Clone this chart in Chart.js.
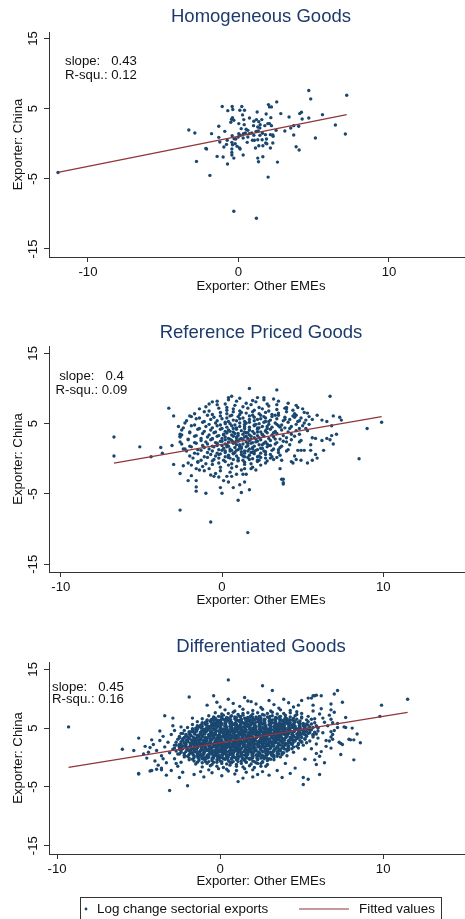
<!DOCTYPE html>
<html>
<head>
<meta charset="utf-8">
<script src="https://cdn.jsdelivr.net/npm/chart.js@4.4.1/dist/chart.umd.min.js"></script>
<style>
  html, body { margin: 0; padding: 0; background: #fff; }
  body { width: 465px; height: 919px; position: relative; overflow: hidden; }
  canvas { position: absolute; left: 0; }
</style>
</head>
<body>
<canvas id="homog" width="465" height="300" style="top:0px"></canvas>
<canvas id="refp" width="465" height="310" style="top:300px"></canvas>
<canvas id="diff" width="465" height="309" style="top:610px"></canvas>
<script>
// panel labels + regression stats
const titles = ['Homogeneous Goods', 'Reference Priced Goods', 'Differentiated Goods'];
const slopes = [0.43, 0.4, 0.45];
const rSquared = [0.12, 0.09, 0.16];
const intercepts = [1.06, 2.05, 2.5];
const xTicks = [-10, 0, 10];
const yTicks = [-15, -5, 5, 15];
const xTitle = 'Exporter: Other EMEs';
const yTitle = 'Exporter: China';
const legendLabels = ['Log change sectorial exports', 'Fitted values'];

// log change of sectoral exports, [other EMEs, China]
const homogPts = [
[4.67,7.57],[7.19,6.90],[4.80,6.38],[-1.08,5.29],[-0.42,5.29],[0.22,5.29],[-0.71,4.71],[-0.38,4.86],[0.09,4.76],[0.40,4.76],
[1.99,5.57],[2.06,5.24],[2.19,5.24],[2.54,5.95],[2.81,4.29],[4.07,4.29],[4.18,4.48],[5.58,4.14],[4.67,3.67],[-0.40,3.71],
[-0.46,3.48],[-0.31,3.33],[-0.51,3.05],[0.27,4.10],[0.35,3.43],[0.73,3.67],[1.24,4.52],[1.02,3.19],[1.19,3.43],[1.35,3.14],
[1.55,3.43],[1.84,4.24],[1.95,2.86],[2.06,2.86],[2.15,3.71],[3.36,3.81],[4.23,3.52],[0.02,2.86],[0.38,2.71],[-1.31,2.48],
[-0.91,1.76],[0.18,2.14],[0.51,2.05],[0.62,1.90],[1.00,2.57],[1.28,2.38],[1.44,2.71],[1.42,2.24],[1.75,2.57],[2.19,2.57],
[2.50,1.90],[3.08,1.81],[3.47,2.24],[3.67,2.57],[4.00,2.48],[6.44,2.67],[7.10,1.38],[-3.30,1.95],[-2.90,1.52],[-1.79,1.43],
[0.02,1.43],[0.13,1.19],[0.33,1.43],[0.46,1.52],[0.71,1.43],[0.88,1.52],[1.02,1.19],[1.17,1.76],[1.31,1.81],[1.42,1.19],
[1.59,1.48],[1.79,1.29],[2.12,1.29],[2.28,1.24],[3.67,1.24],[-1.31,0.90],[-1.24,0.24],[-0.75,0.48],[-0.42,1.14],[-0.29,0.71],
[-0.18,0.67],[-0.02,0.95],[0.31,0.81],[0.62,0.95],[0.93,0.48],[1.06,0.48],[1.28,0.57],[1.57,0.57],[1.86,0.67],[2.30,1.05],
[5.11,0.81],[-2.17,-0.67],[-2.12,-0.76],[-0.97,-0.48],[-0.80,-0.10],[-0.44,0.19],[-0.40,-0.14],[-0.22,0.00],[-0.09,-0.38],[0.07,-0.62],
[0.11,-0.76],[0.58,0.19],[1.13,-0.62],[1.35,-0.29],[1.62,-0.29],[1.81,0.10],[1.88,0.00],[2.28,0.10],[2.12,-0.62],[3.83,-0.43],
[4.03,-0.90],[-1.42,-1.81],[-1.02,-1.90],[-0.44,-0.76],[-0.44,-1.24],[-0.44,-1.62],[-0.31,-2.05],[0.31,-1.62],[1.28,-2.05],[1.33,-2.57],
[1.62,-1.86],[2.59,-2.62],[-2.79,-2.52],[-0.73,-2.90],[-1.90,-4.52],[1.97,-4.76],[-0.31,-9.62],[1.19,-10.62],[-11.99,-4.10]
];

const refPts = [
// outer points
[-6.7,3.1],[-6.7,0.4],[-5.1,1.7],[-4.4,0.3],[-3.8,1.6],[-3.7,0.8],[-3.1,1.9],[-3.3,7.2],[-3.0,6.1],[-2.7,4.6],
[-2.6,3.5],[-2.6,3.2],[-3.0,-0.8],[-2.6,-2.1],[-2.1,-3.1],[-1.9,-2.4],[-1.6,-3.1],[-1.6,-4.0],[-1.6,-4.6],[-2.6,-7.3],
[-1.0,-4.9],[-0.7,-9.0],[1.6,-10.5],[0.0,-4.9],[-0.1,-4.1],[0.7,-4.1],[1.1,-3.7],[1.0,-5.9],[1.2,-4.8],[1.4,-3.3],
[1.7,-4.4],[3.8,-2.9],[3.8,-3.4],[3.4,9.8],[1.7,10.0],[6.7,8.9],[9.0,4.3],[9.9,5.2],[8.5,0.0],
[-2.3,1.4],[-2.4,-1.0],[-2.1,-0.6],[-1.9,-0.9],[-1.6,-1.4],[-1.5,-0.5],[-1.4,-1.6],[-1.1,-1.7],[-0.7,-2.3],[-0.5,-2.5],
[-0.2,-2.6],[0.1,-3.1],[0.3,-2.5],[0.4,-3.3],[0.6,-2.5],[0.9,-2.2],[1.4,-1.4],[1.5,-2.2],
[-1.9,6.0],[-0.8,7.8],[-0.3,8.2],[0.4,8.7],[0.6,8.9],[2.2,8.7],[2.6,8.4],[4.0,7.1],[6.7,2.7],
[4.7,7.3],[5.3,6.5],[5.9,6.2],[6.2,5.5],[6.5,5.3],[6.9,6.1],[7.3,5.9],[7.4,5.5],[6.8,4.7],[7.1,3.5],
[6.8,3.3],[6.9,2.1],[6.5,2.9],[6.2,2.6],[5.8,2.9],[5.6,3.0],[6.3,1.2],[5.8,0.6],[5.9,0.1],[5.6,-0.2],
[5.3,-0.6],[4.9,-0.2],[4.6,-0.1],[4.5,0.4],[4.9,1.2],[5.1,1.2],[5.5,1.2],[5.5,2.0],[4.7,1.2],[4.9,2.6],
[4.8,2.4],[4.8,3.5],[5.2,4.3],[5.3,4.0],[5.6,5.6],[5.4,4.9],[5.0,4.7],[4.8,5.4],[4.5,5.9],[4.6,6.2],
[3.6,-1.4],[3.7,-2.9],[3.8,-3.6],[4.3,-0.4],[4.4,-0.6],[3.7,-0.2],[3.4,0.2],[3.0,0.1],[2.8,-0.3],[2.2,0.3],
[2.2,-0.2],[2.1,-1.6],
// main cloud
[0.4,8.4],[1.1,8.6],[1.9,8.3],[2.6,8.7],[3.2,8.5],
[-0.6,8.1],[0.2,7.8],[0.9,8.2],[1.5,7.9],[2.1,8.1],[2.8,7.8],[3.5,8.2],[4.1,7.9],
[-1.0,7.4],[-0.3,7.7],[0.3,7.3],[0.8,7.6],[1.3,7.4],[1.8,7.7],[2.3,7.3],[2.9,7.5],[3.4,7.7],[4.0,7.3],[4.6,7.6],
[-1.4,7.1],[-0.8,6.8],[-0.2,7.2],[0.3,6.9],[0.7,7.1],[1.1,6.8],[1.6,7.2],[2.0,6.9],[2.5,7.1],[2.9,6.8],[3.4,7.0],[3.9,7.2],[4.4,6.9],[5.0,7.1],
[-1.7,6.4],[-1.1,6.7],[-0.6,6.3],[-0.1,6.6],[0.3,6.4],[0.7,6.7],[1.1,6.3],[1.5,6.5],[1.9,6.7],[2.3,6.4],[2.7,6.6],[3.1,6.3],[3.5,6.5],[4.0,6.7],[4.5,6.4],[5.1,6.6],
[-2.0,6.1],[-1.4,5.8],[-0.9,6.2],[-0.5,5.9],[-0.1,6.1],[0.3,5.8],[0.6,6.2],[1.0,6.0],[1.3,5.8],[1.7,6.1],[2.0,5.9],[2.4,6.2],[2.7,5.8],[3.1,6.0],[3.5,6.2],[3.9,5.9],[4.4,6.1],[4.9,5.8],[5.4,6.0],
[-2.2,5.4],[-1.6,5.7],[-1.1,5.3],[-0.7,5.6],[-0.3,5.4],[0.0,5.7],[0.4,5.3],[0.7,5.5],[1.1,5.7],[1.4,5.3],[1.7,5.6],[2.0,5.4],[2.4,5.7],[2.7,5.3],[3.0,5.5],[3.4,5.7],[3.8,5.4],[4.2,5.6],[4.7,5.3],[5.2,5.5],
[-2.3,5.1],[-1.7,4.8],[-1.2,5.2],[-0.8,4.9],[-0.4,5.1],[-0.1,4.8],[0.2,5.2],[0.5,5.0],[0.8,4.8],[1.1,5.1],[1.4,4.9],[1.7,5.2],[2.0,4.8],[2.3,5.0],[2.6,5.2],[2.9,4.9],[3.3,5.1],[3.7,4.8],[4.1,5.2],[4.6,4.9],[5.1,5.1],
[-2.4,4.4],[-1.9,4.7],[-1.4,4.3],[-1.0,4.6],[-0.6,4.4],[-0.3,4.7],[0.0,4.3],[0.3,4.5],[0.6,4.7],[0.9,4.4],[1.1,4.6],[1.4,4.3],[1.7,4.5],[2.0,4.7],[2.2,4.4],[2.5,4.6],[2.8,4.3],[3.1,4.5],[3.5,4.7],[3.9,4.4],[4.3,4.6],[4.8,4.3],
[-2.5,4.1],[-2.0,3.8],[-1.5,4.2],[-1.1,3.9],[-0.7,4.1],[-0.4,3.8],[-0.1,4.2],[0.2,3.9],[0.4,4.1],[0.7,3.8],[0.9,4.2],[1.2,4.0],[1.4,3.8],[1.7,4.1],[1.9,3.9],[2.2,4.2],[2.4,3.8],[2.7,4.0],[3.0,4.2],[3.3,3.9],[3.7,4.1],[4.1,3.8],[4.6,4.0],
[-2.5,3.4],[-2.0,3.7],[-1.6,3.3],[-1.2,3.6],[-0.8,3.4],[-0.5,3.7],[-0.2,3.3],[0.1,3.5],[0.3,3.7],[0.6,3.4],[0.8,3.6],[1.0,3.3],[1.3,3.5],[1.5,3.7],[1.7,3.4],[2.0,3.6],[2.2,3.3],[2.5,3.5],[2.8,3.7],[3.1,3.4],[3.4,3.6],[3.8,3.3],[4.3,3.5],
[-2.6,3.1],[-2.1,2.8],[-1.7,3.2],[-1.3,2.9],[-0.9,3.1],[-0.6,2.8],[-0.3,3.2],[0.0,2.9],[0.2,3.1],[0.5,2.8],[0.7,3.2],[0.9,3.0],[1.1,2.8],[1.4,3.1],[1.6,2.9],[1.8,3.2],[2.1,2.8],[2.3,3.0],[2.6,3.2],[2.9,2.9],[3.2,3.1],[3.6,2.8],[4.0,3.0],[4.5,3.2],
[-2.6,2.4],[-2.1,2.7],[-1.7,2.3],[-1.3,2.6],[-1.0,2.4],[-0.7,2.7],[-0.4,2.3],[-0.1,2.5],[0.2,2.7],[0.4,2.4],[0.6,2.6],[0.8,2.3],[1.0,2.5],[1.3,2.7],[1.5,2.4],[1.7,2.6],[1.9,2.3],[2.2,2.5],[2.4,2.7],[2.7,2.4],[3.0,2.6],[3.4,2.3],[3.8,2.5],[4.3,2.7],
[-2.5,2.1],[-2.0,1.8],[-1.6,2.2],[-1.2,1.9],[-0.9,2.1],[-0.6,1.8],[-0.3,2.2],[0.0,1.9],[0.2,2.1],[0.4,1.8],[0.7,2.2],[0.9,2.0],[1.1,1.8],[1.3,2.1],[1.6,1.9],[1.8,2.2],[2.0,1.8],[2.3,2.0],[2.6,2.2],[2.9,1.9],[3.3,2.1],[3.7,1.8],[4.2,2.0],
[-2.4,1.4],[-1.9,1.7],[-1.5,1.3],[-1.1,1.6],[-0.8,1.4],[-0.5,1.7],[-0.2,1.3],[0.1,1.5],[0.3,1.7],[0.5,1.4],[0.8,1.6],[1.0,1.3],[1.2,1.5],[1.5,1.7],[1.7,1.4],[1.9,1.6],[2.2,1.3],[2.5,1.5],[2.8,1.7],[3.2,1.4],[3.6,1.6],[4.1,1.3],
[-2.2,1.1],[-1.7,0.8],[-1.3,1.2],[-0.9,0.9],[-0.6,1.1],[-0.3,0.8],[0.0,1.2],[0.2,0.9],[0.5,1.1],[0.7,0.8],[0.9,1.2],[1.2,1.0],[1.4,0.8],[1.6,1.1],[1.9,0.9],[2.1,1.2],[2.4,0.8],[2.7,1.0],[3.1,1.2],[3.5,0.9],[4.0,1.1],
[-2.0,0.4],[-1.5,0.7],[-1.1,0.3],[-0.7,0.6],[-0.4,0.4],[-0.1,0.7],[0.2,0.3],[0.4,0.5],[0.7,0.7],[0.9,0.4],[1.2,0.6],[1.4,0.3],[1.7,0.5],[2.0,0.7],[2.3,0.4],[2.7,0.6],[3.1,0.3],[3.6,0.5],
[-1.8,0.1],[-1.3,-0.2],[-0.9,0.2],[-0.5,-0.1],[-0.2,0.1],[0.1,-0.2],[0.4,0.2],[0.7,-0.1],[1.0,0.1],[1.3,-0.2],[1.6,0.2],[1.9,0.0],[2.3,-0.2],[2.7,0.1],[3.2,-0.1],
[-1.5,-0.4],[-1.0,-0.7],[-0.6,-0.3],[-0.2,-0.6],[0.2,-0.4],[0.6,-0.7],[1.0,-0.3],[1.4,-0.5],[1.8,-0.7],[2.2,-0.4],[2.7,-0.6],
[-1.2,-1.1],[-0.6,-0.8],[-0.1,-1.2],[0.4,-0.9],[0.9,-1.1],[1.4,-0.8],[1.9,-1.2],[2.4,-0.9],
[-0.8,-1.4],[-0.1,-1.7],[0.6,-1.3],[1.2,-1.6],[1.8,-1.4],
[-0.4,-2.1],[0.5,-1.9],[1.3,-2.2],
// thicker middle
[0.3,2.0],[0.6,1.2],[0.9,2.6],[1.2,1.7],[1.5,3.2],[1.8,0.9],[2.1,2.4],[2.4,1.5],[0.1,3.4],[0.5,3.9],
[1.0,3.6],[1.6,2.2],[2.0,3.0],[2.5,3.4],[2.8,2.1],[1.3,0.4],[0.8,0.9],[0.2,1.1],[-0.3,1.9],[-0.6,2.9],
[1.7,4.1],[2.3,4.4],[0.7,4.3],[1.1,2.0],[1.4,1.1],[1.9,1.4],[2.6,1.1],[3.0,1.9],[3.3,2.8],[0.4,2.9],
[1.2,2.9],[1.6,3.7],[2.2,3.8],[0.0,2.5],[-0.2,0.6],[0.5,0.1],[1.0,-0.2],[1.7,-0.1],[2.0,1.0],[2.7,3.9],
[3.2,3.7],[3.6,4.5],[2.9,5.3],[2.2,5.6],[1.5,5.1],[0.9,5.4],[0.2,5.0],[1.9,6.2],[1.2,6.6],[2.6,6.0],
[3.3,6.2],[0.5,6.1],[2.4,0.2],[1.1,1.5],[0.7,2.4],[1.8,2.8],[2.5,2.0],[0.3,3.7],[0.9,3.1],[1.4,4.6],
[2.1,4.9],[2.8,4.6],[3.4,4.9],[3.9,5.6],[4.2,4.3],[4.0,2.4],[3.5,1.3],[3.0,0.6]
];

const diffPts = [
// outer points
[-9.3,5.2],[-6.0,1.4],[-5.3,1.2],[-5.0,3.3],[-5.0,-2.8],[-4.7,0.6],[-4.5,-0.1],[-4.2,-2.2],[-4.3,1.7],[-3.7,2.9],
[-3.6,-2.1],[-3.4,7.1],[-3.1,-5.6],[-2.9,6.7],[-2.4,5.2],[-1.9,10.3],[-2.0,-4.8],[-1.7,6.7],[-1.6,-2.9],[-1.0,-3.3],
[-0.8,8.9],[-0.4,10.5],[0.5,13.2],[0.5,9.9],[2.0,-3.3],[2.6,12.2],[2.6,-2.4],[3.0,-3.0],[3.2,11.4],[4.0,-1.0],
[5.0,9.7],[5.1,-3.4],[5.1,-4.6],[5.4,-3.7],[5.6,10.1],[5.8,10.5],[6.2,10.5],[6.1,-2.9],[7.0,10.8],[7.2,11.4],
[7.5,9.4],[7.4,0.5],[7.7,5.1],[8.2,-0.4],[7.9,3.1],[8.0,3.0],[8.2,3.0],[8.4,4.0],[8.6,2.5],[9.9,8.9],
[9.8,7.0],[11.5,9.9],[6.8,8.1],[7.0,7.7],[6.7,7.2],[6.8,6.5],[6.9,5.9],[7.2,5.8],[7.7,6.8],[7.2,5.1],
[7.0,4.6],[6.8,4.4],[6.9,3.9],[6.8,3.5],[6.9,3.1],[6.7,2.8],[6.8,1.6],[7.6,5.2],[8.1,5.0],[7.3,2.6],
[7.4,2.4],[7.5,2.2],[1.7,9.6],[1.9,9.5],[3.0,9.7],[5.4,10.1],[5.7,10.5],[5.9,10.6],[5.7,8.9],[6.8,9.1],
[5.2,-0.3],[5.9,0.7],[5.8,-0.4],[2.8,-1.5],[2.3,-1.0],[0.5,-2.3],[-5.0,-2.7],[-4.3,-2.3],[-3.6,-1.8],
[-4.4,0.9],[-4.1,2.2],[-4.0,-0.6],[-3.9,1.2],[-3.8,-1.3],[-3.6,0.3],[-3.5,3.6],[-3.4,1.8],[-3.3,-0.9],[-3.2,2.6],
[-3.1,0.8],[-3.0,-2.2],[-3.0,3.9],[-2.9,1.4],[-2.8,-0.2],[-2.8,4.6],[-2.7,2.1],[-2.6,-1.5],[-2.6,0.6],[-2.5,3.3],
[-2.4,-0.8],[-2.4,1.8],[-2.3,4.1],[-2.3,-2.5],[-3.9,-2.0],[-4.6,1.9],[-3.3,-3.0],[-2.9,5.4],[-2.5,-3.4],[-3.7,4.5],
[-4.2,3.0],[-3.5,-0.2],[-2.7,-1.0],
[5.6,1.5],[5.7,3.9],[5.8,6.6],[5.9,2.3],[6.0,5.1],[6.1,7.4],[6.2,1.0],[6.3,4.2],[6.4,6.0],[6.5,2.9],
[6.1,0.2],[6.6,5.4],[6.2,8.3],[6.4,-0.9],[5.7,7.9],[6.0,3.3],[6.3,6.7],[5.9,-1.2],[6.5,1.9],
[0.0,8.6],[0.8,9.2],[1.2,8.7],[2.2,9.1],[2.5,8.5],[3.3,9.0],[3.6,8.4],[4.2,9.3],[4.5,8.6],[1.5,10.2],
[3.9,9.9],[-0.2,9.4],[4.8,8.9],
[-0.5,-2.6],[0.1,-3.1],[0.9,-2.8],[1.4,-3.5],[1.6,-2.5],[2.3,-2.9],[3.5,-2.2],[4.3,-2.7],[-1.2,-2.4],[1.1,-4.1],
[4.6,-1.8],[3.8,-3.4],
// main cloud
[0.3,8.1],[0.9,7.9],[1.4,8.2],[2.0,8.0],[2.6,8.2],[3.1,7.9],[3.7,8.1],[4.3,8.0],[4.7,7.8],
[-0.3,7.6],[0.1,7.4],[0.5,7.5],[0.8,7.7],[1.1,7.3],[1.4,7.5],[1.7,7.6],[2.0,7.4],[2.3,7.6],[2.6,7.3],[2.9,7.5],[3.2,7.7],[3.5,7.4],[3.9,7.5],[4.3,7.6],[4.7,7.3],[5.0,7.5],
[-0.7,7.1],[-0.4,6.9],[-0.1,7.0],[0.2,7.2],[0.4,6.8],[0.7,7.1],[0.9,6.9],[1.2,7.0],[1.4,7.2],[1.7,6.8],[1.9,7.1],[2.2,6.9],[2.4,7.0],[2.7,7.2],[2.9,6.9],[3.2,7.1],[3.4,6.8],[3.7,7.0],[4.0,7.2],[4.3,6.9],[4.6,7.1],[5.0,6.9],[5.4,7.0],
[-1.1,6.6],[-0.8,6.4],[-0.5,6.5],[-0.3,6.7],[-0.1,6.3],[0.2,6.5],[0.4,6.6],[0.6,6.4],[0.9,6.6],[1.1,6.3],[1.3,6.5],[1.6,6.7],[1.8,6.4],[2.0,6.5],[2.3,6.6],[2.5,6.3],[2.7,6.5],[3.0,6.7],[3.2,6.4],[3.4,6.6],[3.7,6.5],[3.9,6.3],[4.1,6.6],[4.4,6.4],[4.7,6.5],[5.0,6.7],[5.3,6.4],[5.6,6.5],
[-1.4,6.1],[-1.1,5.9],[-0.9,6.0],[-0.6,6.2],[-0.4,5.8],[-0.2,6.0],[0.0,6.1],[0.3,5.9],[0.5,6.2],[0.7,6.0],[0.9,5.8],[1.2,6.1],[1.4,5.9],[1.6,6.0],[1.8,6.2],[2.1,5.8],[2.3,6.1],[2.5,5.9],[2.7,6.0],[3.0,6.2],[3.2,5.9],[3.4,6.1],[3.6,5.8],[3.9,6.0],[4.1,6.2],[4.3,5.9],[4.6,6.1],[4.8,6.0],[5.1,5.8],[5.4,6.1],[5.8,5.9],
[-1.7,5.6],[-1.4,5.4],[-1.2,5.5],[-0.9,5.7],[-0.7,5.3],[-0.5,5.5],[-0.3,5.6],[-0.1,5.4],[0.1,5.7],[0.3,5.5],[0.6,5.3],[0.8,5.6],[1.0,5.4],[1.2,5.5],[1.5,5.7],[1.7,5.3],[1.9,5.6],[2.1,5.4],[2.4,5.5],[2.6,5.7],[2.8,5.4],[3.0,5.6],[3.3,5.3],[3.5,5.5],[3.7,5.7],[3.9,5.4],[4.2,5.6],[4.4,5.5],[4.6,5.3],[4.9,5.6],[5.1,5.4],[5.4,5.5],[5.6,5.7],[5.9,5.4],
[-2.0,5.1],[-1.7,4.9],[-1.5,5.0],[-1.3,5.2],[-1.0,4.8],[-0.8,5.0],[-0.6,5.1],[-0.4,4.9],[-0.2,5.2],[0.0,5.0],[0.2,4.8],[0.4,5.1],[0.7,4.9],[0.9,5.0],[1.1,5.2],[1.3,4.8],[1.5,5.1],[1.8,4.9],[2.0,5.0],[2.2,5.2],[2.4,4.9],[2.6,5.1],[2.9,4.8],[3.1,5.0],[3.3,5.2],[3.5,4.9],[3.8,5.1],[4.0,5.0],[4.2,4.8],[4.4,5.1],[4.7,4.9],[4.9,5.0],[5.2,5.2],[5.4,4.9],[5.7,5.1],[6.0,5.0],
[-2.2,4.6],[-1.9,4.4],[-1.7,4.5],[-1.5,4.7],[-1.2,4.3],[-1.0,4.5],[-0.8,4.6],[-0.6,4.4],[-0.4,4.7],[-0.1,4.5],[0.1,4.3],[0.3,4.6],[0.5,4.4],[0.8,4.5],[1.0,4.7],[1.2,4.3],[1.4,4.6],[1.6,4.4],[1.9,4.5],[2.1,4.7],[2.3,4.4],[2.5,4.6],[2.7,4.3],[3.0,4.5],[3.2,4.7],[3.4,4.4],[3.6,4.6],[3.9,4.5],[4.1,4.3],[4.3,4.6],[4.5,4.4],[4.8,4.5],[5.0,4.7],[5.3,4.4],[5.5,4.6],[5.8,4.3],[6.0,4.5],
[-2.4,4.1],[-2.1,3.9],[-1.9,4.0],[-1.6,4.2],[-1.4,3.8],[-1.2,4.0],[-1.0,4.1],[-0.7,3.9],[-0.5,4.2],[-0.3,4.0],[-0.1,3.8],[0.2,4.1],[0.4,3.9],[0.6,4.0],[0.8,4.2],[1.0,3.8],[1.3,4.1],[1.5,3.9],[1.7,4.0],[1.9,4.2],[2.2,3.9],[2.4,4.1],[2.6,3.8],[2.8,4.0],[3.1,4.2],[3.3,3.9],[3.5,4.1],[3.7,4.0],[4.0,3.8],[4.2,4.1],[4.4,3.9],[4.7,4.0],[4.9,4.2],[5.2,3.9],[5.4,4.1],[5.7,3.8],[5.9,4.0],
[-2.5,3.6],[-2.2,3.4],[-2.0,3.5],[-1.8,3.7],[-1.5,3.3],[-1.3,3.5],[-1.1,3.6],[-0.9,3.4],[-0.6,3.7],[-0.4,3.5],[-0.2,3.3],[0.0,3.6],[0.3,3.4],[0.5,3.5],[0.7,3.7],[0.9,3.3],[1.1,3.6],[1.4,3.4],[1.6,3.5],[1.8,3.7],[2.0,3.4],[2.3,3.6],[2.5,3.3],[2.7,3.5],[2.9,3.7],[3.2,3.4],[3.4,3.6],[3.6,3.5],[3.8,3.3],[4.1,3.6],[4.3,3.4],[4.5,3.5],[4.8,3.7],[5.0,3.4],[5.3,3.6],[5.7,3.5],
[-2.6,3.1],[-2.3,2.9],[-2.1,3.0],[-1.9,3.2],[-1.6,2.8],[-1.4,3.0],[-1.2,3.1],[-1.0,2.9],[-0.8,3.2],[-0.5,3.0],[-0.3,2.8],[-0.1,3.1],[0.1,2.9],[0.4,3.0],[0.6,3.2],[0.8,2.8],[1.0,3.1],[1.2,2.9],[1.5,3.0],[1.7,3.2],[1.9,2.9],[2.1,3.1],[2.4,2.8],[2.6,3.0],[2.8,3.2],[3.0,2.9],[3.3,3.1],[3.5,3.0],[3.7,2.8],[3.9,3.1],[4.2,2.9],[4.4,3.0],[4.7,3.2],[4.9,2.9],[5.2,3.1],[5.5,2.8],
[-2.7,2.6],[-2.4,2.4],[-2.2,2.5],[-2.0,2.7],[-1.7,2.3],[-1.5,2.5],[-1.3,2.6],[-1.1,2.4],[-0.9,2.7],[-0.6,2.5],[-0.4,2.3],[-0.2,2.6],[0.0,2.4],[0.2,2.5],[0.5,2.7],[0.7,2.3],[0.9,2.6],[1.1,2.4],[1.3,2.5],[1.6,2.7],[1.8,2.4],[2.0,2.6],[2.2,2.3],[2.5,2.5],[2.7,2.7],[2.9,2.4],[3.1,2.6],[3.4,2.5],[3.6,2.3],[3.8,2.6],[4.0,2.4],[4.3,2.5],[4.5,2.7],[4.8,2.4],[5.0,2.6],[5.3,2.5],
[-2.8,2.1],[-2.5,1.9],[-2.3,2.0],[-2.1,2.2],[-1.8,1.8],[-1.6,2.0],[-1.4,2.1],[-1.2,1.9],[-1.0,2.2],[-0.7,2.0],[-0.5,1.8],[-0.3,2.1],[-0.1,1.9],[0.1,2.0],[0.4,2.2],[0.6,1.8],[0.8,2.1],[1.0,1.9],[1.2,2.0],[1.5,2.2],[1.7,1.9],[1.9,2.1],[2.1,1.8],[2.4,2.0],[2.6,2.2],[2.8,1.9],[3.0,2.1],[3.3,2.0],[3.5,1.8],[3.7,2.1],[3.9,1.9],[4.2,2.0],[4.4,2.2],[4.7,1.9],[5.1,2.1],
[-2.8,1.6],[-2.5,1.4],[-2.3,1.5],[-2.0,1.7],[-1.8,1.3],[-1.6,1.5],[-1.4,1.6],[-1.1,1.4],[-0.9,1.7],[-0.7,1.5],[-0.5,1.3],[-0.2,1.6],[0.0,1.4],[0.2,1.5],[0.4,1.7],[0.7,1.3],[0.9,1.6],[1.1,1.4],[1.3,1.5],[1.6,1.7],[1.8,1.4],[2.0,1.6],[2.2,1.3],[2.5,1.5],[2.7,1.7],[2.9,1.4],[3.1,1.6],[3.4,1.5],[3.6,1.3],[3.8,1.6],[4.1,1.4],[4.4,1.5],[4.8,1.6],
[-2.7,1.1],[-2.4,0.9],[-2.1,1.0],[-1.9,1.2],[-1.7,0.8],[-1.4,1.0],[-1.2,1.1],[-1.0,0.9],[-0.8,1.2],[-0.5,1.0],[-0.3,0.8],[-0.1,1.1],[0.1,0.9],[0.4,1.0],[0.6,1.2],[0.8,0.8],[1.0,1.1],[1.3,0.9],[1.5,1.0],[1.7,1.2],[1.9,0.9],[2.2,1.1],[2.4,0.8],[2.6,1.0],[2.8,1.2],[3.1,0.9],[3.3,1.1],[3.5,1.0],[3.8,0.8],[4.1,1.1],[4.5,0.9],
[-2.5,0.6],[-2.2,0.4],[-1.9,0.5],[-1.7,0.7],[-1.4,0.3],[-1.2,0.5],[-1.0,0.6],[-0.7,0.4],[-0.5,0.7],[-0.3,0.5],[-0.1,0.3],[0.2,0.6],[0.4,0.4],[0.6,0.5],[0.8,0.7],[1.1,0.3],[1.3,0.6],[1.5,0.4],[1.7,0.5],[2.0,0.7],[2.2,0.4],[2.4,0.6],[2.6,0.3],[2.9,0.5],[3.1,0.7],[3.3,0.4],[3.6,0.6],[3.8,0.5],[4.1,0.3],
[-2.2,0.1],[-1.9,-0.1],[-1.6,0.0],[-1.4,0.2],[-1.1,-0.2],[-0.9,0.0],[-0.7,0.1],[-0.4,-0.1],[-0.2,0.2],[0.0,0.0],[0.2,-0.2],[0.5,0.1],[0.7,-0.1],[0.9,0.0],[1.1,0.2],[1.4,-0.2],[1.6,0.1],[1.8,-0.1],[2.0,0.0],[2.3,0.2],[2.5,-0.1],[2.7,0.1],[3.0,-0.2],[3.3,0.0],[3.7,0.1],
[-1.9,-0.4],[-1.6,-0.6],[-1.3,-0.5],[-1.0,-0.3],[-0.7,-0.7],[-0.5,-0.5],[-0.2,-0.4],[0.0,-0.6],[0.3,-0.3],[0.5,-0.5],[0.8,-0.7],[1.0,-0.4],[1.3,-0.6],[1.5,-0.5],[1.8,-0.3],[2.0,-0.6],[2.3,-0.4],[2.6,-0.7],[2.9,-0.5],[3.3,-0.4],
[-1.5,-1.1],[-1.1,-0.9],[-0.8,-1.0],[-0.5,-1.2],[-0.2,-0.8],[0.1,-1.0],[0.4,-1.1],[0.7,-0.9],[1.0,-1.2],[1.3,-1.0],[1.6,-0.8],[1.9,-1.1],[2.2,-0.9],[2.5,-1.0],[2.9,-1.2],
[-1.1,-1.6],[-0.6,-1.4],[-0.2,-1.5],[0.2,-1.7],[0.6,-1.3],[1.0,-1.5],[1.4,-1.6],[1.8,-1.4],[2.1,-1.7],[2.5,-1.5],
[-0.7,-2.1],[-0.1,-1.9],[0.4,-2.0],[1.0,-2.2],[1.5,-1.9],[2.0,-2.1],
// dense core, in between the rows above
[0.0,4.8],[0.5,4.7],[0.9,4.8],[1.3,4.7],[1.8,4.8],[2.2,4.7],[2.7,4.8],[3.1,4.7],[3.6,4.8],[4.0,4.7],
[-0.3,4.2],[0.2,4.3],[0.6,4.2],[1.1,4.3],[1.5,4.2],[2.0,4.3],[2.4,4.2],[2.9,4.3],[3.3,4.2],[3.8,4.3],
[-0.5,3.8],[0.0,3.7],[0.4,3.8],[0.9,3.7],[1.3,3.8],[1.7,3.7],[2.2,3.8],[2.6,3.7],[3.1,3.8],[3.5,3.7],
[-0.6,3.2],[-0.2,3.3],[0.3,3.2],[0.7,3.3],[1.2,3.2],[1.6,3.3],[2.0,3.2],[2.5,3.3],[2.9,3.2],[3.4,3.3],
[-0.8,2.8],[-0.3,2.7],[0.1,2.8],[0.6,2.7],[1.0,2.8],[1.4,2.7],[1.9,2.8],[2.3,2.7],[2.8,2.8],[3.2,2.7],
[-1.0,2.2],[-0.5,2.3],[-0.1,2.2],[0.3,2.3],[0.8,2.2],[1.2,2.3],[1.7,2.2],[2.1,2.3],[2.6,2.2],[3.0,2.3],
[-1.1,1.8],[-0.6,1.7],[-0.2,1.8],[0.3,1.7],[0.7,1.8],[1.1,1.7],[1.6,1.8],[2.0,1.7],[2.5,1.8],
[-1.2,1.2],[-0.7,1.3],[-0.3,1.2],[0.1,1.3],[0.6,1.2],[1.0,1.3],[1.5,1.2],[1.9,1.3],
[-0.4,6.7],[0.1,6.8],[0.5,6.7],[1.0,6.8],[1.5,6.7],[2.0,6.8],[2.5,6.7],[3.0,6.8],[3.5,6.7],[4.0,6.8],[4.5,6.7],
[-0.8,6.2],[-0.4,6.3],[-0.1,6.2],[0.3,6.3],[0.6,6.2],[1.0,6.3],[1.3,6.2],[1.7,6.3],[2.0,6.2],[2.4,6.3],[2.7,6.2],[3.1,6.3],[3.4,6.2],[3.8,6.3],[4.1,6.2],[4.5,6.3],[4.9,6.2],
[-1.1,5.7],[-0.8,5.8],[-0.4,5.7],[-0.1,5.8],[0.3,5.7],[0.6,5.8],[1.0,5.7],[1.3,5.8],[1.7,5.7],[2.0,5.8],[2.4,5.7],[2.7,5.8],[3.1,5.7],[3.4,5.8],[3.8,5.7],[4.1,5.8],[4.5,5.7],[4.9,5.8],[5.3,5.7],
[-1.4,5.2],[-1.1,5.3],[-0.7,5.2],[-0.4,5.3],[0.0,5.2],[0.3,5.3],[0.7,5.2],[1.0,5.3],[1.4,5.2],[1.7,5.3],[2.1,5.2],[2.4,5.3],[2.8,5.2],[3.1,5.3],[3.5,5.2],[3.8,5.3],[4.2,5.2],[4.5,5.3],[4.9,5.2],[5.2,5.3],[5.5,5.2],
[-1.7,4.7],[-1.4,4.8],[-1.0,4.7],[-0.7,4.8],[-0.3,4.7],[0.2,4.8],[0.7,4.7],[1.1,4.8],[1.6,4.7],[2.0,4.8],[2.5,4.7],[2.9,4.8],[3.4,4.7],[3.8,4.8],[4.2,4.7],[4.6,4.8],[4.9,4.7],[5.3,4.8],[5.6,4.7],
[-1.9,4.2],[-1.6,4.3],[-1.2,4.2],[-0.9,4.3],[-0.5,4.2],[0.0,4.3],[0.4,4.2],[0.9,4.3],[1.3,4.2],[1.8,4.3],[2.2,4.2],[2.6,4.3],[3.1,4.2],[3.5,4.3],[4.0,4.2],[4.4,4.3],[4.8,4.2],[5.1,4.3],[5.5,4.2],
[-2.1,3.7],[-1.8,3.8],[-1.4,3.7],[-1.1,3.8],[-0.7,3.7],[-0.3,3.8],[0.2,3.7],[0.6,3.8],[1.1,3.7],[1.5,3.8],[1.9,3.7],[2.4,3.8],[2.8,3.7],[3.3,3.8],[3.7,3.7],[4.1,3.8],[4.5,3.7],[4.9,3.8],[5.3,3.7],
[-2.3,3.2],[-1.9,3.3],[-1.6,3.2],[-1.2,3.3],[-0.9,3.2],[-0.4,3.3],[0.0,3.2],[0.5,3.3],[0.9,3.2],[1.4,3.3],[1.8,3.2],[2.2,3.3],[2.7,3.2],[3.1,3.3],[3.6,3.2],[4.0,3.3],[4.4,3.2],[4.8,3.3],[5.2,3.2],
[-2.4,2.7],[-2.0,2.8],[-1.7,2.7],[-1.3,2.8],[-1.0,2.7],[-0.6,2.8],[-0.1,2.7],[0.4,2.8],[0.8,2.7],[1.2,2.8],[1.7,2.7],[2.1,2.8],[2.5,2.7],[3.0,2.8],[3.4,2.7],[3.8,2.8],[4.2,2.7],[4.6,2.8],[5.0,2.7],
[-2.5,2.2],[-2.1,2.3],[-1.8,2.2],[-1.4,2.3],[-1.2,2.2],[-0.8,2.3],[-0.3,2.2],[0.1,2.3],[0.5,2.2],[1.0,2.3],[1.4,2.2],[1.9,2.3],[2.3,2.2],[2.8,2.3],[3.2,2.2],[3.6,2.3],[4.0,2.2],[4.4,2.3],[4.8,2.2],
[-2.5,1.7],[-2.1,1.8],[-1.8,1.7],[-1.4,1.8],[-0.9,1.7],[-0.4,1.8],[0.1,1.7],[0.5,1.8],[0.9,1.7],[1.4,1.8],[1.8,1.7],[2.3,1.8],[2.7,1.7],[3.1,1.8],[3.5,1.7],[3.9,1.8],[4.2,1.7],[4.5,1.8],
[-2.4,1.2],[-2.0,1.3],[-1.6,1.2],[-1.0,1.3],[-0.5,1.2],[-0.1,1.3],[0.3,1.2],[0.8,1.3],[1.2,1.2],[1.7,1.3],[2.1,1.2],[2.5,1.3],[2.9,1.2],[3.3,1.3],[3.7,1.2],[4.2,1.3],
[-2.2,0.7],[-1.8,0.8],[-1.4,0.7],[-1.0,0.8],[-0.6,0.7],[-0.2,0.8],[0.3,0.7],[0.7,0.8],[1.1,0.7],[1.6,0.8],[2.0,0.7],[2.4,0.8],[2.8,0.7],[3.2,0.8],[3.5,0.7],[3.9,0.8],
[-2.0,0.2],[-1.6,0.3],[-1.2,0.2],[-0.8,0.3],[-0.4,0.2],[0.0,0.3],[0.4,0.2],[0.8,0.3],[1.2,0.2],[1.6,0.3],[2.0,0.2],[2.4,0.3],[2.8,0.2],[3.2,0.3],[3.5,0.2],
[-1.7,-0.3],[-1.3,-0.2],[-0.9,-0.3],[-0.5,-0.2],[-0.1,-0.3],[0.3,-0.2],[0.7,-0.3],[1.1,-0.2],[1.5,-0.3],[1.9,-0.2],[2.3,-0.3],[2.7,-0.2],[3.1,-0.3],
[-1.4,-0.8],[-0.9,-0.7],[-0.4,-0.8],[0.1,-0.7],[0.6,-0.8],[1.1,-0.7],[1.6,-0.8],[2.1,-0.7],[2.6,-0.8],
// solid middle of the cloud
[0.05,6.93],[0.65,6.97],[1.25,6.93],[1.85,6.97],[2.45,6.93],[3.05,6.97],[3.65,6.93],
[-0.55,6.43],[-0.25,6.47],[0.05,6.43],[0.35,6.47],[0.65,6.43],[0.95,6.47],[1.25,6.43],[1.55,6.47],[1.85,6.43],[2.15,6.47],[2.45,6.43],[2.75,6.47],[3.05,6.43],[3.35,6.47],[3.65,6.43],[3.95,6.47],[4.25,6.43],
[-0.85,5.93],[-0.55,5.97],[-0.25,5.93],[0.05,5.97],[0.35,5.93],[0.65,5.97],[0.95,5.93],[1.25,5.97],[1.55,5.93],[1.85,5.97],[2.15,5.93],[2.45,5.97],[2.75,5.93],[3.05,5.97],[3.35,5.93],[3.65,5.97],[3.95,5.93],[4.25,5.97],[4.55,5.93],[4.85,5.97],
[-1.15,5.43],[-0.85,5.47],[-0.55,5.43],[-0.25,5.47],[0.05,5.43],[0.35,5.47],[0.65,5.43],[0.95,5.47],[1.25,5.43],[1.55,5.47],[1.85,5.43],[2.15,5.47],[2.45,5.43],[2.75,5.47],[3.05,5.43],[3.35,5.47],[3.65,5.43],[3.95,5.47],[4.25,5.43],[4.55,5.47],[4.85,5.43],[5.15,5.47],
[-1.45,4.93],[-1.15,4.97],[-0.85,4.93],[-0.55,4.97],[-0.25,4.93],[0.05,4.97],[0.35,4.93],[0.65,4.97],[0.95,4.93],[1.25,4.97],[1.55,4.93],[1.85,4.97],[2.15,4.93],[2.45,4.97],[2.75,4.93],[3.05,4.97],[3.35,4.93],[3.65,4.97],[3.95,4.93],[4.25,4.97],[4.55,4.93],[4.85,4.97],[5.15,4.93],
[-1.75,4.43],[-1.45,4.47],[-1.15,4.43],[-0.85,4.47],[-0.55,4.43],[-0.25,4.47],[0.05,4.43],[0.35,4.47],[0.65,4.43],[0.95,4.47],[1.25,4.43],[1.55,4.47],[1.85,4.43],[2.15,4.47],[2.45,4.43],[2.75,4.47],[3.05,4.43],[3.35,4.47],[3.65,4.43],[3.95,4.47],[4.25,4.43],[4.55,4.47],[4.85,4.43],[5.15,4.47],
[-1.85,3.93],[-1.55,3.97],[-1.25,3.93],[-0.95,3.97],[-0.65,3.93],[-0.35,3.97],[-0.05,3.93],[0.25,3.97],[0.55,3.93],[0.85,3.97],[1.15,3.93],[1.45,3.97],[1.75,3.93],[2.05,3.97],[2.35,3.93],[2.65,3.97],[2.95,3.93],[3.25,3.97],[3.55,3.93],[3.85,3.97],[4.15,3.93],[4.45,3.97],[4.75,3.93],[5.05,3.97],
[-1.95,3.43],[-1.65,3.47],[-1.35,3.43],[-1.05,3.47],[-0.75,3.43],[-0.45,3.47],[-0.15,3.43],[0.15,3.47],[0.45,3.43],[0.75,3.47],[1.05,3.43],[1.35,3.47],[1.65,3.43],[1.95,3.47],[2.25,3.43],[2.55,3.47],[2.85,3.43],[3.15,3.47],[3.45,3.43],[3.75,3.47],[4.05,3.43],[4.35,3.47],[4.65,3.43],
[-2.05,2.93],[-1.75,2.97],[-1.45,2.93],[-1.15,2.97],[-0.85,2.93],[-0.55,2.97],[-0.25,2.93],[0.05,2.97],[0.35,2.93],[0.65,2.97],[0.95,2.93],[1.25,2.97],[1.55,2.93],[1.85,2.97],[2.15,2.93],[2.45,2.97],[2.75,2.93],[3.05,2.97],[3.35,2.93],[3.65,2.97],[3.95,2.93],[4.25,2.97],[4.55,2.93],
[-2.15,2.43],[-1.85,2.47],[-1.55,2.43],[-1.25,2.47],[-0.95,2.43],[-0.65,2.47],[-0.35,2.43],[-0.05,2.47],[0.25,2.43],[0.55,2.47],[0.85,2.43],[1.15,2.47],[1.45,2.43],[1.75,2.47],[2.05,2.43],[2.35,2.47],[2.65,2.43],[2.95,2.47],[3.25,2.43],[3.55,2.47],[3.85,2.43],[4.15,2.47],[4.45,2.43],
[-2.15,1.93],[-1.85,1.97],[-1.55,1.93],[-1.25,1.97],[-0.95,1.93],[-0.65,1.97],[-0.35,1.93],[-0.05,1.97],[0.25,1.93],[0.55,1.97],[0.85,1.93],[1.15,1.97],[1.45,1.93],[1.75,1.97],[2.05,1.93],[2.35,1.97],[2.65,1.93],[2.95,1.97],[3.25,1.93],[3.55,1.97],[3.85,1.93],[4.15,1.97],
[-2.05,1.43],[-1.75,1.47],[-1.45,1.43],[-1.15,1.47],[-0.85,1.43],[-0.55,1.47],[-0.25,1.43],[0.05,1.47],[0.35,1.43],[0.65,1.47],[0.95,1.43],[1.25,1.47],[1.55,1.43],[1.85,1.47],[2.15,1.43],[2.45,1.47],[2.75,1.43],[3.05,1.47],[3.35,1.43],[3.65,1.47],[3.95,1.43],
[-1.85,0.93],[-1.55,0.97],[-1.25,0.93],[-0.95,0.97],[-0.65,0.93],[-0.35,0.97],[-0.05,0.93],[0.25,0.97],[0.55,0.93],[0.85,0.97],[1.15,0.93],[1.45,0.97],[1.75,0.93],[2.05,0.97],[2.35,0.93],[2.65,0.97],[2.95,0.93],[3.25,0.97],[3.55,0.93],
[-1.65,0.43],[-1.35,0.47],[-1.05,0.43],[-0.75,0.47],[-0.45,0.43],[-0.15,0.47],[0.15,0.43],[0.45,0.47],[0.75,0.43],[1.05,0.47],[1.35,0.43],[1.65,0.47],[1.95,0.43],[2.25,0.47],[2.55,0.43],[2.85,0.47],[3.15,0.43],
[-1.35,-0.07],[-1.05,-0.03],[-0.75,-0.07],[-0.45,-0.03],[-0.15,-0.07],[0.15,-0.03],[0.45,-0.07],[0.75,-0.03],[1.05,-0.07],[1.35,-0.03],[1.65,-0.07],[1.95,-0.03],[2.25,-0.07],[2.55,-0.03],[2.85,-0.07]
];

const panelPts = [homogPts, refPts, diffPts];

// where each panel sits on its canvas (px) and the axis ranges
const frames = [
  { id: 'homog', plotTop: 32, plotBottom: 257, xMin: -12.59, xMax: 15.05, yMin: -16.14, yMax: 15.91, titleY: 17, xTitleY: 286, noteX: 101, noteY: [61, 75] },
  { id: 'refp', plotTop: 46, plotBottom: 272, xMin: -10.73, xMax: 15.07, yMin: -16.1, yMax: 16.04, titleY: 32.7, xTitleY: 300.7, noteX: 91.5, noteY: [76.7, 90.3] },
  { id: 'diff', plotTop: 52, plotBottom: 244, xMin: -10.5, xMax: 15.02, yMin: -16.41, yMax: 16.24, titleY: 37.3, xTitleY: 271, noteX: 88, noteY: [77.7, 89.3], legendY: 299 }
];

const FONT = "'Liberation Sans', Arial, sans-serif";
const NAVY = '#1a476f';
const MAROON = '#90353b';
const AXIS = '#333';

Chart.defaults.font.family = FONT;

// titles, rotated y labels, regression note and the legend box
const panelText = {
  id: 'panelText',
  afterDraw(chart, args, o) {
    const ctx = chart.ctx;
    const area = chart.chartArea;
    ctx.save();
    ctx.textAlign = 'center';
    ctx.textBaseline = 'middle';

    ctx.fillStyle = '#1c3a6b';
    ctx.font = '18.5px ' + FONT;
    ctx.fillText(o.title, 261, o.titleY);

    ctx.fillStyle = '#111';
    ctx.font = '13.2px ' + FONT;
    ctx.fillText(xTitle, 261, o.xTitleY);

    ctx.save();
    ctx.translate(18, (area.top + area.bottom) / 2);
    ctx.rotate(-Math.PI / 2);
    ctx.fillText(yTitle, 0, 0);
    ctx.restore();

    const ys = chart.scales.y;
    yTicks.forEach(v => {
      ctx.save();
      ctx.translate(33, ys.getPixelForValue(v));
      ctx.rotate(-Math.PI / 2);
      ctx.fillText(String(v), 0, 0);
      ctx.restore();
    });

    ctx.fillText('slope:   ' + o.slope, o.noteX, o.noteY[0]);
    ctx.fillText('R-squ.: ' + o.r2, o.noteX, o.noteY[1]);

    if (o.legendY) {
      const ly = o.legendY;
      ctx.strokeStyle = AXIS;
      ctx.lineWidth = 1;
      ctx.strokeRect(80.5, ly - 11.5, 361, 40);
      ctx.fillStyle = NAVY;
      ctx.beginPath();
      ctx.arc(86, ly, 1.4, 0, Math.PI * 2);
      ctx.fill();
      ctx.strokeStyle = MAROON;
      ctx.lineWidth = 1.2;
      ctx.beginPath();
      ctx.moveTo(299, ly);
      ctx.lineTo(349, ly);
      ctx.stroke();
      ctx.fillStyle = '#111';
      ctx.textAlign = 'left';
      ctx.font = '13.4px ' + FONT;
      ctx.fillText(legendLabels[0], 97, ly);
      ctx.fillText(legendLabels[1], 359, ly);
    }
    ctx.restore();
  }
};

frames.forEach((f, i) => {
  const canvas = document.getElementById(f.id);
  const pts = panelPts[i].map(p => ({ x: p[0], y: p[1] }));
  const xs = panelPts[i].map(p => p[0]);
  const x0 = Math.min(...xs), x1 = Math.max(...xs);
  const fit = [x0, x1].map(x => ({ x: x, y: intercepts[i] + slopes[i] * x }));
  const H = canvas.height;

  new Chart(canvas, {
    type: 'scatter',
    data: {
      datasets: [
        {
          label: legendLabels[1],
          data: fit,
          showLine: true,
          borderColor: MAROON,
          borderWidth: 1.3,
          pointRadius: 0,
          order: 0
        },
        {
          label: legendLabels[0],
          data: pts,
          backgroundColor: NAVY,
          pointRadius: 1.7,
          pointBorderWidth: 0,
          order: 1
        }
      ]
    },
    options: {
      responsive: false,
      animation: false,
      devicePixelRatio: 1,
      events: [],
      layout: { padding: { top: f.plotTop, left: 0, right: 0, bottom: 0 }, autoPadding: false },
      plugins: {
        legend: { display: false },
        tooltip: { enabled: false },
        panelText: { title: titles[i], slope: slopes[i], r2: rSquared[i], titleY: f.titleY, xTitleY: f.xTitleY, noteX: f.noteX, noteY: f.noteY, legendY: f.legendY }
      },
      scales: {
        x: {
          type: 'linear',
          min: f.xMin,
          max: f.xMax,
          afterBuildTicks: s => { s.ticks = xTicks.map(v => ({ value: v })); },
          afterFit: s => { s.height = H - f.plotBottom; s.paddingLeft = 0; s.paddingRight = 0; },
          grid: { drawOnChartArea: false, drawTicks: true, tickLength: 5, color: AXIS, lineWidth: 1 },
          border: { display: true, color: AXIS, width: 1 },
          ticks: { color: '#111', font: { size: 13.2 }, padding: 2, maxRotation: 0, autoSkip: false }
        },
        y: {
          type: 'linear',
          min: f.yMin,
          max: f.yMax,
          afterBuildTicks: s => { s.ticks = yTicks.map(v => ({ value: v })); },
          afterFit: s => { s.width = 49; s.paddingTop = 0; s.paddingBottom = 0; },
          grid: { drawOnChartArea: false, drawTicks: true, tickLength: 5, color: AXIS, lineWidth: 1 },
          border: { display: true, color: AXIS, width: 1 },
          ticks: { display: false }
        }
      }
    },
    plugins: [panelText]
  });
});
</script>
</body>
</html>
